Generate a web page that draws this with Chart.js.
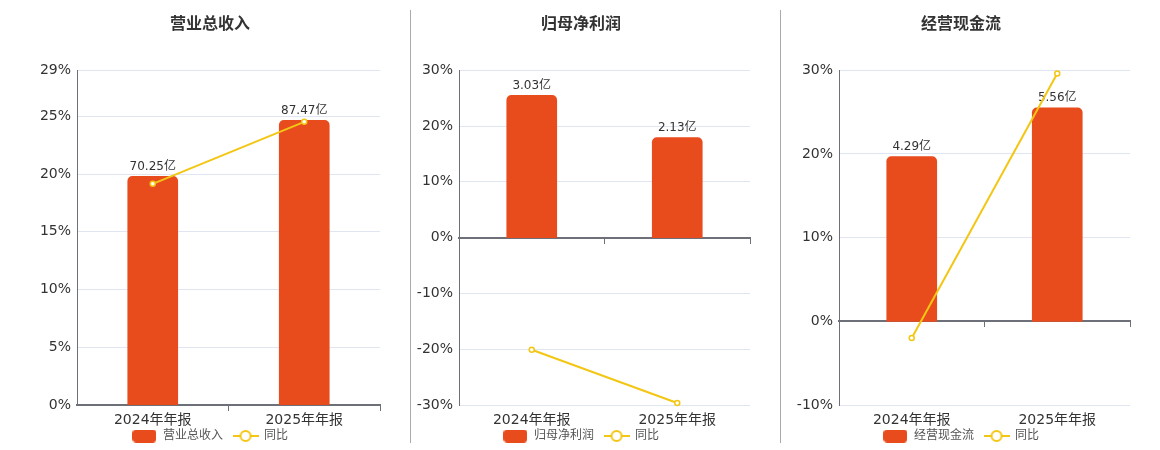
<!DOCTYPE html>
<html>
<head>
<meta charset="utf-8">
<script src="https://cdn.jsdelivr.net/npm/chart.js@4.4.1/dist/chart.umd.min.js"></script>
<style>
html,body{margin:0;padding:0;background:#fff;overflow:hidden;}
#wrap{position:relative;width:1160px;height:450px;overflow:hidden;}
.panel{position:absolute;top:0;}
.sep{position:absolute;top:10px;height:433px;width:1px;background:#aaa;}
</style>
</head>
<body>
<div id="wrap">
  <canvas id="c1" class="panel" width="420" height="452" style="left:0"></canvas>
  <canvas id="c2" class="panel" width="342" height="452" style="left:410px"></canvas>
  <canvas id="c3" class="panel" width="342" height="452" style="left:790px"></canvas>
  <div class="sep" style="left:410px"></div>
  <div class="sep" style="left:780px"></div>
</div>
<script>
// 数据
const categories = ['2024年年报', '2025年年报'];

const revenue = [70.25, 87.47];
const revenueYoy = [19.16, 24.53];
const revenueTicks = [0, 5, 10, 15, 20, 25, 29];

const netProfit = [3.03, 2.13];
const netProfitYoy = [-20.1, -29.64];
const netProfitTicks = [-30, -20, -10, 0, 10, 20, 30];

const cashFlow = [4.29, 5.56];
const cashFlowYoy = [-2.0, 29.6];
const cashFlowTicks = [-10, 0, 10, 20, 30];

const FONT = '"DejaVu Sans", "Noto Sans CJK SC", sans-serif';
const BAR = '#e84b1c';
const LINE = '#f3c614';
const AXIS = '#6e7079';

// 图例图标
function iconBar(){
    let c=document.createElement('canvas');
    c.width=24; c.height=13;
    let g=c.getContext('2d');
    let r=4, w=24, h=13;
    g.fillStyle=BAR;
    g.beginPath();
    g.moveTo(r,0); g.lineTo(w-r,0); g.quadraticCurveTo(w,0,w,r);
    g.lineTo(w,h-r); g.quadraticCurveTo(w,h,w-r,h);
    g.lineTo(r,h); g.quadraticCurveTo(0,h,0,h-r);
    g.lineTo(0,r); g.quadraticCurveTo(0,0,r,0);
    g.fill();
    return c;
}
function iconLine(){
    let c=document.createElement('canvas');
    c.width=26; c.height=14;
    let g=c.getContext('2d');
    g.strokeStyle=LINE; g.lineWidth=2;
    g.beginPath(); g.moveTo(0,7); g.lineTo(26,7); g.stroke();
    g.beginPath(); g.arc(13,7,5,0,Math.PI*2);
    g.fillStyle='#fff'; g.fill(); g.stroke();
    return c;
}
const barIcon=iconBar();
const lineIcon=iconLine();

// 柱子上的数值
const barLabels={
    id:'barLabels',
    afterDatasetDraw(chart,args){
        if(args.meta.type!=='bar') return;
        const ctx=chart.ctx;
        const data=chart.data.datasets[args.index].data;
        ctx.save();
        ctx.font='12px '+FONT;
        ctx.fillStyle='#333';
        ctx.textAlign='center';
        ctx.textBaseline='alphabetic';
        args.meta.data.forEach((bar,i)=>{
            ctx.fillText(data[i].toFixed(2)+'亿', bar.x, bar.y-6.5);
        });
        ctx.restore();
    }
};

function noPad(s){ s.paddingLeft=0; s.paddingRight=0; }

function panel(id,title,values,yoy,ticks,axisWidth,rightWidth){
    const yMin=ticks[0], yMax=ticks[ticks.length-1];
    const barMax=Math.max(...values)/0.85;
    const barMin=barMax*yMin/yMax;

    new Chart(document.getElementById(id),{
        type:'bar',
        data:{
            labels:categories,
            datasets:[{
                type:'bar',
                label:title,
                data:values,
                yAxisID:'y1',
                xAxisID:'x',
                backgroundColor:BAR,
                barThickness:50,
                borderRadius:5,
                order:1
            },{
                type:'line',
                label:'同比',
                data:yoy,
                yAxisID:'y',
                xAxisID:'x',
                borderColor:LINE,
                borderWidth:2,
                pointRadius:2.5,
                pointBorderWidth:1.5,
                pointBackgroundColor:'#fff',
                pointBorderColor:LINE,
                tension:0,
                clip:false,
                order:0
            }]
        },
        options:{
            responsive:false,
            animation:false,
            layout:{padding:0,autoPadding:false},
            plugins:{
                tooltip:{enabled:false},
                title:{
                    display:true,
                    text:title,
                    color:'#333',
                    font:{size:16,weight:'bold',family:FONT},
                    padding:{top:15,bottom:36}
                },
                legend:{
                    position:'bottom',
                    labels:{
                        usePointStyle:true,
                        pointStyleWidth:25,
                        padding:10,
                        color:'#555',
                        font:{size:12,family:FONT},
                        generateLabels(chart){
                            return chart.data.datasets.map((d,i)=>({
                                text:d.label,
                                pointStyle:i===0?barIcon:lineIcon,
                                datasetIndex:i,
                                hidden:false,
                                fontColor:'#555',
                                lineWidth:0,
                                fillStyle:'transparent',
                                strokeStyle:'transparent'
                            }));
                        }
                    }
                }
            },
            scales:{
                x:{
                    type:'category',
                    axis:'x',
                    position:{y:yMin},
                    offset:true,
                    grid:{display:false,drawTicks:false},
                    border:{display:false},
                    ticks:{color:'#333',font:{size:14,family:FONT},padding:7},
                    afterFit:noPad
                },
                xz:{
                    type:'category',
                    axis:'x',
                    position:{y:0},
                    offset:true,
                    grid:{
                        offset:true,
                        drawOnChartArea:false,
                        drawTicks:true,
                        tickLength:5,
                        lineWidth:1,
                        color:c=>c.index===0?'rgba(0,0,0,0)':AXIS
                    },
                    border:{display:true,color:AXIS,width:2},
                    ticks:{display:false},
                    afterFit:noPad
                },
                xpad:{
                    type:'category',
                    axis:'x',
                    position:'bottom',
                    grid:{display:false,drawTicks:false},
                    border:{display:false},
                    ticks:{display:false},
                    afterFit(s){ s.height=15; noPad(s); }
                },
                y:{
                    type:'linear',
                    position:'left',
                    min:yMin,
                    max:yMax,
                    afterBuildTicks(s){ s.ticks=ticks.map(v=>({value:v})); },
                    grid:{color:'#e0e6f1',drawTicks:false},
                    border:{display:true,color:AXIS,width:1},
                    ticks:{
                        color:'#333',
                        font:{size:14,family:FONT},
                        padding:6,
                        callback:v=>v+'%'
                    },
                    afterFit(s){ s.width=axisWidth; }
                },
                y1:{
                    type:'linear',
                    position:'right',
                    min:barMin,
                    max:barMax,
                    grid:{display:false,drawTicks:false},
                    border:{display:false},
                    ticks:{display:false},
                    afterFit(s){ s.width=rightWidth; }
                }
            }
        },
        plugins:[barLabels]
    });
}

window.onload=function(){
    panel('c1','营业总收入',revenue,revenueYoy,revenueTicks,77,40);
    panel('c2','归母净利润',netProfit,netProfitYoy,netProfitTicks,49,2);
    panel('c3','经营现金流',cashFlow,cashFlowYoy,cashFlowTicks,49,2);
};
</script>
</body>
</html>
